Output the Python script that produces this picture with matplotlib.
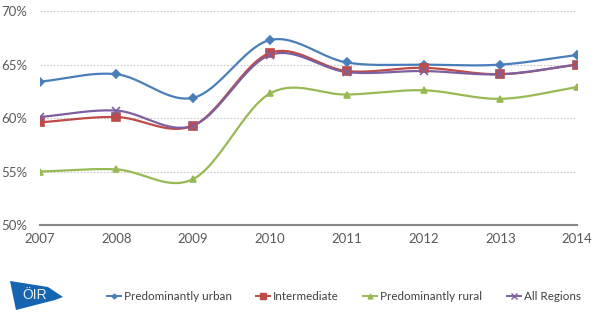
import numpy as np
import matplotlib
matplotlib.use("Agg")
import matplotlib.pyplot as plt
from matplotlib.patches import Polygon

years = [2007, 2008, 2009, 2010, 2011, 2012, 2013, 2014]
urban = [63.4, 64.1, 61.9, 67.3, 65.2, 65.0, 65.0, 65.9]
intermediate = [59.6, 60.1, 59.3, 66.1, 64.4, 64.7, 64.1, 65.0]
rural = [55.0, 55.2, 54.3, 62.3, 62.2, 62.6, 61.8, 62.9]
all_regions = [60.1, 60.7, 59.3, 65.9, 64.3, 64.4, 64.1, 65.0]
labels = ["Predominantly urban", "Intermediate", "Predominantly rural", "All Regions"]
yticks = [50, 55, 60, 65, 70]

colors = ["#4A7EBB", "#BE4B48", "#98B954", "#7D60A0"]
markers = ["D", "s", "^", "x"]
msizes = [4, 6, 5, 6]


def smooth(x, y, n=30):
    x = np.asarray(x, float)
    y = np.asarray(y, float)
    px = np.concatenate([[2 * x[0] - x[1]], x, [2 * x[-1] - x[-2]]])
    py = np.concatenate([[2 * y[0] - y[1]], y, [2 * y[-1] - y[-2]]])
    xs, ys = [], []
    for i in range(1, len(px) - 2):
        t = np.linspace(0, 1, n)
        for arr, out in ((px, xs), (py, ys)):
            p0, p1, p2, p3 = arr[i - 1], arr[i], arr[i + 1], arr[i + 2]
            out.append(0.5 * ((2 * p1) + (-p0 + p2) * t + (2 * p0 - 5 * p1 + 4 * p2 - p3) * t ** 2
                              + (-p0 + 3 * p1 - 3 * p2 + p3) * t ** 3))
    return np.concatenate(xs), np.concatenate(ys)


plt.rcParams['font.family'] = ['Lato', 'DejaVu Sans']
fig = plt.figure(figsize=(6.0, 3.28), dpi=100)
ax = fig.add_axes([0.066, 0.314, 0.896, 0.652])

series = [urban, intermediate, rural, all_regions]
handles = []
for s, c, m, ms, lab in zip(series, colors, markers, msizes, labels):
    sx, sy = smooth(years, s)
    ax.plot(sx, sy, color=c, lw=1.6, zorder=3)
    ax.plot(years, s, linestyle='none', marker=m, color=c, ms=ms, mew=1.2, zorder=4)
    h, = ax.plot([], [], color=c, lw=1.4, marker=m, ms=ms - 1.5 if m != "x" else ms - 2, mew=1.0, label=lab)
    handles.append(h)

ax.set_xlim(2007, 2014)
ax.set_ylim(50, 70)
ax.set_yticks(yticks)
ax.set_yticklabels([f"{v}%" for v in yticks])
ax.set_xticks(years)
ax.set_xticklabels([str(y) for y in years])
for v in yticks[1:]:
    ax.axhline(v, color="#C8C8C8", lw=0.8, ls=(0, (1.5, 1.5)), zorder=1)
for sp in ["top", "right", "left"]:
    ax.spines[sp].set_visible(False)
ax.spines["bottom"].set_color("#868686")
ax.spines["bottom"].set_linewidth(1.5)
ax.tick_params(axis='both', length=0, labelsize=9.5, colors="#595959", pad=6)
ax.tick_params(axis='y', pad=9)

fig.legend(handles=handles, loc='center', bbox_to_anchor=(0.573, 0.097), ncol=4, frameon=False,
           fontsize=8.4, handlelength=1.2, handletextpad=0.25, columnspacing=2.1, labelcolor="#404040")

W, H = 600, 328
pts = [(10, 281), (48, 287), (63, 297), (55, 300), (16, 310)]
poly = Polygon([(x / W, 1 - y / H) for x, y in pts], closed=True, transform=fig.transFigure,
               facecolor="#1565B0", edgecolor="none")
fig.patches.append(poly)
fig.text(35 / W, 1 - 295 / H, "ÖIR", color="#E8EEF6", fontsize=10, ha='center', va='center',
         family=['Liberation Sans', 'DejaVu Sans'])

fig.savefig("out.png", dpi=100)
